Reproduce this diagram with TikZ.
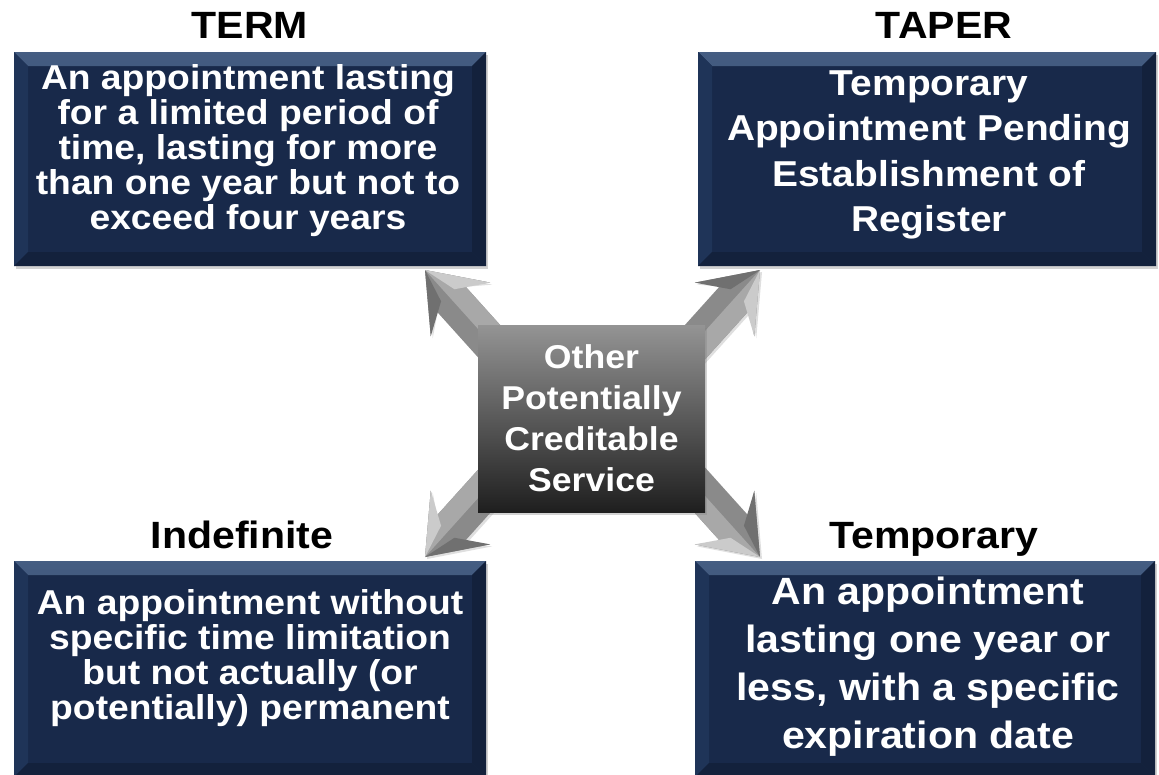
\documentclass[tikz,border=0pt]{standalone}
\usepackage{fontspec}
\setmainfont{Liberation Sans}[FakeStretch=1.08]
\usetikzlibrary{shadows}
\definecolor{navy}{HTML}{18294A}
\definecolor{navylight}{HTML}{455D82}
\definecolor{navymid}{HTML}{1F3458}
\definecolor{navydark}{HTML}{13213C}
\definecolor{arrowgray}{HTML}{8A8A8A}
\definecolor{arrowlt}{HTML}{A8A8A8}
\definecolor{arrowdk}{HTML}{707070}
\tikzset{
  bevel/.style={path picture={
    \shade[top color=navylight, bottom color=navymid]
      (path picture bounding box.north west) -- (path picture bounding box.north east)
      -- ([xshift=-14pt,yshift=-14pt]path picture bounding box.north east)
      -- ([xshift=14pt,yshift=-14pt]path picture bounding box.north west) -- cycle;
    \fill[navymid]
      (path picture bounding box.north west) -- ([xshift=14pt,yshift=-14pt]path picture bounding box.north west)
      -- ([xshift=14pt,yshift=14pt]path picture bounding box.south west) -- (path picture bounding box.south west) -- cycle;
    \fill[navydark]
      (path picture bounding box.north east) -- (path picture bounding box.south east)
      -- ([xshift=-14pt,yshift=14pt]path picture bounding box.south east)
      -- ([xshift=-14pt,yshift=-14pt]path picture bounding box.north east) -- cycle;
    \fill[navydark]
      (path picture bounding box.south west) -- ([xshift=14pt,yshift=14pt]path picture bounding box.south west)
      -- ([xshift=-14pt,yshift=14pt]path picture bounding box.south east) -- (path picture bounding box.south east) -- cycle;
  }},
  panel/.style={fill=navy, draw=none, inner sep=0pt, bevel,
    drop shadow={opacity=0.35, shadow xshift=2pt, shadow yshift=-3pt}},
  paneltext/.style={text=white, font=\bfseries, align=center, inner sep=0pt},
  title/.style={text=black, font=\bfseries\fontsize{38}{40}\selectfont, inner sep=0pt, anchor=base},
  hub/.style={top color=black!42, bottom color=black!88, draw=none,
    minimum width=227pt, minimum height=187pt, inner sep=0pt,
    text=white, font=\bfseries\fontsize{33}{41}\selectfont, align=center,
    drop shadow={opacity=0.35, shadow xshift=2pt, shadow yshift=-3pt}},
}
\newcommand\fatarrow[2]{%
  \begin{scope}[shift={(#1)}, rotate=#2]
    \fill[arrowgray, drop shadow={opacity=0.25, shadow xshift=2pt, shadow yshift=-2pt}]
      (0,0) -- (-53,-40) -- (-37,-19) -- (-125,-19) -- (-125,19) -- (-37,19) -- (-53,40) -- cycle;
    \fill[arrowlt] (0,0) -- (-53,40) -- (-37,19) -- (-125,19) -- (-125,0) -- (-30,0) -- cycle;
    \fill[arrowdk] (0,0) -- (-53,-40) -- (-34,-9) -- cycle;
    \fill[arrowlt!60!white] (0,0) -- (-53,40) -- (-34,9) -- cycle;
  \end{scope}}
\begin{document}
\begin{tikzpicture}[x=1pt,y=-1pt]
\useasboundingbox[fill=white] (0,0) rectangle (1159,774);
% arrow tips
\coordinate (tipTL) at (425,270);
\coordinate (tipTR) at (760,270);
\coordinate (tipBL) at (425,557);
\coordinate (tipBR) at (760,557);
\fatarrow{tipTL}{132}
\fatarrow{tipTR}{48}
\fatarrow{tipBL}{228}
\fatarrow{tipBR}{312}
% panels
\node[panel, minimum width=472pt, minimum height=214pt] (termbox) at (250,159) {};
\node[panel, minimum width=458pt, minimum height=214pt] (taperbox) at (927,159) {};
\node[panel, minimum width=472pt, minimum height=216pt] (indefbox) at (250,669) {};
\node[panel, minimum width=460pt, minimum height=216pt] (tempbox) at (925,669) {};
% titles
\node[title] (termtitle) at (250,38) {TERM};
\node[title] (tapertitle) at (944,38) {TAPER};
\node[title] (indeftitle) at (242,548) {Indefinite};
\node[title] (temptitle) at (934,548) {Temporary};
% panel texts
\node[paneltext, font=\bfseries\fontsize{34.5}{35}\selectfont] (termtext) at (248,151)
  {An appointment lasting\\for a limited period of\\time, lasting for more\\than one year but not to\\exceed four years};
\node[paneltext, font=\bfseries\fontsize{36}{45.5}\selectfont] (tapertext) at (929,155)
  {Temporary\\Appointment Pending\\Establishment of\\Register};
\node[paneltext, font=\bfseries\fontsize{34.5}{35}\selectfont] (indeftext) at (250,658)
  {An appointment without\\specific time limitation\\but not actually (or\\potentially) permanent};
\node[paneltext, font=\bfseries\fontsize{38}{48}\selectfont] (temptext) at (928,667)
  {An appointment\\lasting one year or\\less, with a specific\\expiration date};
% hub
\node[hub] (hub) at (591.5,418.5) {Other\\Potentially\\Creditable\\Service};
\end{tikzpicture}
\end{document}
